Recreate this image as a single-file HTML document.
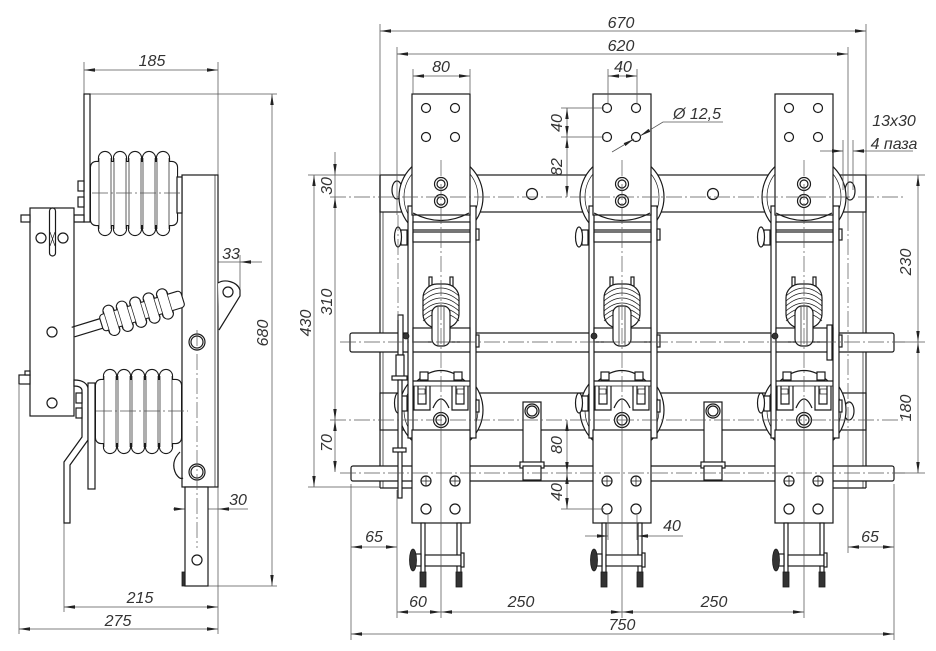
<!DOCTYPE html>
<html><head><meta charset="utf-8">
<style>
html,body{margin:0;padding:0;background:#fff;}
svg{display:block;}
.o{stroke:#1a1a1a;stroke-width:1.2;fill:#fff;}
.l{stroke:#1a1a1a;stroke-width:1.2;fill:none;}
.t{stroke:#1a1a1a;stroke-width:.7;fill:none;}
.d{stroke:#555;stroke-width:.75;fill:none;}
.c{stroke:#555;stroke-width:.7;fill:none;stroke-dasharray:16 3 2 3;}
.k{fill:#333;stroke:#1a1a1a;stroke-width:.8;}
text{font-family:"Liberation Sans",sans-serif;font-style:italic;font-size:16px;fill:#333;text-anchor:middle;}
</style></head>
<body>
<svg width="936" height="651" viewBox="0 0 936 651" xmlns="http://www.w3.org/2000/svg">
<defs>
<marker id="a" viewBox="0 0 11 4" refX="11" refY="2" markerWidth="11" markerHeight="4" markerUnits="userSpaceOnUse" orient="auto-start-reverse"><path d="M0,0.3 L11,2 L0,3.7z" fill="#222"/></marker>

<g id="phB">
 <circle cx="0" cy="197" r="42" class="o"/>
 <circle cx="0" cy="197" r="37" class="t"/>
 <circle cx="0" cy="410" r="42" class="o"/>
 <circle cx="0" cy="410" r="37" class="t"/>
 <rect x="-33" y="212" width="68" height="218" fill="#fff"/>
</g>

<g id="phF">
 <!-- rails -->
 <rect x="-33" y="206" width="5" height="232" class="o"/>
 <rect x="29" y="206" width="6" height="232" class="o"/>
 <rect x="35" y="229" width="3" height="11" class="o"/>
 <rect x="35" y="335" width="3" height="12" class="o"/>
 <rect x="35" y="400" width="3" height="12" class="o"/>
 <!-- top plate -->
 <rect x="-29" y="94" width="58" height="121" class="o"/>
 <path d="M-28,213 Q0,228 28,213" class="l"/>
 <circle cx="-15" cy="108" r="4.5" class="l"/>
 <circle cx="14" cy="108" r="4.5" class="l"/>
 <circle cx="-15" cy="137" r="4.5" class="l"/>
 <circle cx="14" cy="137" r="4.5" class="l"/>
 <circle cx="0" cy="184" r="6.5" class="o"/><circle cx="0" cy="184" r="4" class="l"/>
 <circle cx="0" cy="201" r="6.5" class="o"/><circle cx="0" cy="201" r="4" class="l"/>
 <!-- crossbars -->
 <rect x="-28" y="222" width="57" height="8" class="o"/>
 <rect x="-28" y="232" width="57" height="10" class="o"/>
 <!-- small insulator -->
 <rect x="-12" y="277" width="3" height="9" class="o"/>
 <rect x="9" y="277" width="3" height="9" class="o"/>
 <rect x="-18" y="284" width="36" height="44" rx="14" class="o"/>
 <path d="M-18,296 Q0,280 18,296 M-18,301 Q0,285 18,301 M-18,306 Q0,290 18,306 M-18,311 Q0,295 18,311 M-18,316 Q0,300 18,316 M-18,321 Q0,305 18,321" class="t"/>
 <rect x="-28" y="328" width="57" height="14" class="o"/>
 <rect x="-9" y="306" width="18" height="40" rx="7" class="o"/>
 <line x1="-3" y1="307" x2="-3" y2="345" class="t"/>
 <line x1="3" y1="307" x2="3" y2="345" class="t"/>
 <!-- lower contact -->
 <path d="M-24,381 Q0,360 24,381" class="l"/>
 <line x1="-28" y1="381" x2="29" y2="381" class="l"/>
 <rect x="-21" y="372" width="8" height="8" class="o"/>
 <rect x="13" y="372" width="8" height="8" class="o"/>
 <path d="M-27,386 L-27,410 L-11,410 L-11,386 M-23,386 L-23,404 L-15,404 L-15,386" class="l"/>
 <path d="M11,386 L11,410 L27,410 L27,386 M15,386 L15,404 L23,404 L23,386" class="l"/>
 <rect x="-23" y="389" width="7" height="5" class="t"/>
 <rect x="16" y="389" width="7" height="5" class="t"/>
 <line x1="-28" y1="386" x2="29" y2="386" class="t"/>
 <path d="M-8,408 Q0,390 8,408" class="o"/>
 <circle cx="0" cy="420" r="7.5" class="o"/><circle cx="0" cy="420" r="5" class="l"/>
 <!-- knobs -->
 <rect x="-40" y="230" width="6" height="15" class="o"/>
 <ellipse cx="-43" cy="237" rx="3.5" ry="10" class="o"/>
 <rect x="-40" y="396" width="6" height="15" class="o"/>
 <ellipse cx="-43" cy="403" rx="3.5" ry="10" class="o"/>
 <!-- lower plate -->
 <rect x="-29" y="430" width="58" height="93" class="o"/>
 <circle cx="-15" cy="481" r="5" class="l"/><path d="M-15,476 V486 M-20,481 H-10" class="t"/>
 <circle cx="14" cy="481" r="5" class="l"/><path d="M14,476 V486 M9,481 H19" class="t"/>
 <circle cx="-15" cy="509" r="5" class="l"/>
 <circle cx="14" cy="509" r="5" class="l"/>
 <!-- fuse -->
 <rect x="-20" y="523" width="4" height="50" class="o"/>
 <rect x="16" y="523" width="4" height="50" class="o"/>
 <rect x="-16" y="555" width="36" height="11" class="o"/>
 <rect x="20" y="553" width="3" height="14" class="o"/>
 <rect x="-26" y="554" width="6" height="12" class="o"/>
 <ellipse cx="-28" cy="560" rx="3.5" ry="11" class="k"/>
 <rect x="-21" y="572" width="6" height="15" class="k"/>
 <rect x="15" y="572" width="6" height="15" class="k"/>
</g>
</defs>

<!-- ================= LEFT (SIDE) VIEW ================= -->
<!-- extension lines -->
<g class="d">
 <line x1="84" y1="62" x2="84" y2="94"/>
 <line x1="218" y1="62" x2="218" y2="175"/>
 <line x1="218" y1="487" x2="218" y2="634"/>
 <line x1="90" y1="94" x2="277" y2="94"/>
 <line x1="207" y1="586" x2="277" y2="586"/>
 <line x1="240" y1="255" x2="240" y2="292"/>
 <line x1="64" y1="523" x2="64" y2="612"/>
 <line x1="19" y1="385" x2="19" y2="634"/>
 <line x1="84" y1="70" x2="218" y2="70" marker-start="url(#a)" marker-end="url(#a)"/>
 <line x1="272" y1="94" x2="272" y2="586" marker-start="url(#a)" marker-end="url(#a)"/>
 <line x1="196" y1="262" x2="216" y2="262" marker-end="url(#a)"/>
 <line x1="216" y1="262" x2="240" y2="262"/>
 <line x1="262" y1="262" x2="240" y2="262" marker-end="url(#a)"/>
 <line x1="173" y1="509" x2="185" y2="509" marker-end="url(#a)"/>
 <line x1="185" y1="509" x2="218" y2="509"/>
 <line x1="248" y1="509" x2="218" y2="509" marker-end="url(#a)"/>
 <line x1="64" y1="607" x2="218" y2="607" marker-start="url(#a)" marker-end="url(#a)"/>
 <line x1="19" y1="629" x2="218" y2="629" marker-start="url(#a)" marker-end="url(#a)"/>
</g>

<!-- top bracket -->
<rect x="84" y="94" width="6" height="128" class="o"/>
<path d="M74,215 L84,215 L84,222 L74,222 Z" class="o"/>
<rect x="78" y="181" width="6" height="10" class="o"/>
<rect x="78" y="197" width="6" height="10" class="o"/>

<!-- blade -->
<rect x="182" y="175" width="36" height="312" class="o"/>
<line x1="215" y1="175" x2="215" y2="487" class="t"/>
<path d="M218,283 C224,279 237,281 240,290 L240,296 L219,330" class="o"/>
<circle cx="228" cy="292" r="5" class="l"/>
<circle cx="197" cy="342" r="8" class="o"/><circle cx="197" cy="342" r="6" class="l"/>
<circle cx="197" cy="472" r="8" class="o"/><circle cx="197" cy="472" r="6" class="l"/>
<rect x="185" y="487" width="23" height="99" class="o"/>
<circle cx="197" cy="560" r="5" class="l"/>
<rect x="182" y="572" width="3" height="14" class="k"/>
<line x1="197" y1="330" x2="197" y2="548" class="c"/>

<!-- upper insulator (union outline trick) -->
<g>
 <g fill="none" stroke="#1a1a1a" stroke-width="2.2">
  <rect x="91" y="162" width="86" height="63" rx="5"/>
  <rect x="99" y="152" width="12" height="83" rx="6"/>
  <rect x="114" y="152" width="12" height="83" rx="6"/>
  <rect x="129" y="152" width="12" height="83" rx="6"/>
  <rect x="143" y="152" width="12" height="83" rx="6"/>
  <rect x="157" y="152" width="12" height="83" rx="6"/>
 </g>
 <g fill="#fff">
  <rect x="91" y="162" width="86" height="63" rx="5"/>
  <rect x="99" y="152" width="12" height="83" rx="6"/>
  <rect x="114" y="152" width="12" height="83" rx="6"/>
  <rect x="129" y="152" width="12" height="83" rx="6"/>
  <rect x="143" y="152" width="12" height="83" rx="6"/>
  <rect x="157" y="152" width="12" height="83" rx="6"/>
 </g>
 <path d="M99,158 V229 M111,158 V229 M114,158 V229 M126,158 V229 M129,158 V229 M141,158 V229 M143,158 V229 M155,158 V229 M157,158 V229 M169,158 V229" class="t"/>
 <rect x="177" y="177" width="5" height="36" class="o"/>
 <line x1="92" y1="193" x2="182" y2="193" class="c"/>
</g>

<!-- left block -->
<rect x="30" y="208" width="44" height="208" class="o"/>
<rect x="49.5" y="208" width="6" height="48" rx="3" class="o"/>
<path d="M50,232 L55,246 M55,232 L50,246" class="t"/>
<circle cx="41" cy="238" r="5" class="l"/>
<circle cx="63" cy="238" r="5" class="l"/>
<circle cx="52" cy="332" r="5" class="l"/>
<circle cx="52" cy="403" r="5" class="l"/>
<rect x="21" y="215" width="9" height="7" class="o"/>
<rect x="19" y="375" width="11" height="9" class="o"/>
<rect x="25" y="371" width="5" height="4" class="o"/>

<!-- middle inclined insulator -->
<g transform="translate(142,311) rotate(-17)">
 <line x1="-72" y1="-5" x2="-42" y2="-5" class="l"/>
 <line x1="-72" y1="5" x2="-42" y2="5" class="l"/>
 <g fill="none" stroke="#1a1a1a" stroke-width="2.2">
  <rect x="-42" y="-8" width="84" height="16" rx="3"/>
  <rect x="-37" y="-15" width="10" height="30" rx="5"/>
  <rect x="-23" y="-15" width="10" height="30" rx="5"/>
  <rect x="-9" y="-15" width="10" height="30" rx="5"/>
  <rect x="5" y="-15" width="10" height="30" rx="5"/>
  <rect x="19" y="-15" width="10" height="30" rx="5"/>
 </g>
 <g fill="#fff">
  <rect x="-42" y="-8" width="84" height="16" rx="3"/>
  <rect x="-37" y="-15" width="10" height="30" rx="5"/>
  <rect x="-23" y="-15" width="10" height="30" rx="5"/>
  <rect x="-9" y="-15" width="10" height="30" rx="5"/>
  <rect x="5" y="-15" width="10" height="30" rx="5"/>
  <rect x="19" y="-15" width="10" height="30" rx="5"/>
 </g>
 <path d="M-37,-11 V11 M-27,-11 V11 M-23,-11 V11 M-13,-11 V11 M-9,-11 V11 M1,-11 V11 M5,-11 V11 M15,-11 V11 M19,-11 V11 M29,-11 V11" class="t"/>
</g>

<!-- lower bracket -->
<path d="M74,380 Q86,380 88,388 L88,440 L70,465 L70,523 L64,523 L64,462 L82,437 L82,390 Q81,386 74,386 Z" class="o"/>
<rect x="88" y="383" width="7" height="106" class="o"/>
<rect x="76" y="393" width="6" height="10" class="o"/>
<rect x="76" y="408" width="6" height="10" class="o"/>

<!-- lower insulator -->
<g>
 <g fill="none" stroke="#1a1a1a" stroke-width="2.2">
  <rect x="96" y="380" width="85" height="63" rx="5"/>
  <rect x="104" y="370" width="12" height="83" rx="6"/>
  <rect x="118" y="370" width="12" height="83" rx="6"/>
  <rect x="132" y="370" width="12" height="83" rx="6"/>
  <rect x="146" y="370" width="12" height="83" rx="6"/>
  <rect x="160" y="370" width="12" height="83" rx="6"/>
 </g>
 <g fill="#fff">
  <rect x="96" y="380" width="85" height="63" rx="5"/>
  <rect x="104" y="370" width="12" height="83" rx="6"/>
  <rect x="118" y="370" width="12" height="83" rx="6"/>
  <rect x="132" y="370" width="12" height="83" rx="6"/>
  <rect x="146" y="370" width="12" height="83" rx="6"/>
  <rect x="160" y="370" width="12" height="83" rx="6"/>
 </g>
 <path d="M104,376 V447 M116,376 V447 M118,376 V447 M130,376 V447 M132,376 V447 M144,376 V447 M146,376 V447 M158,376 V447 M160,376 V447 M172,376 V447" class="t"/>
 <line x1="96" y1="411" x2="188" y2="411" class="c"/>
 <path d="M180,452 Q170,462 176,474 Q180,480 183,478" class="l"/>
</g>

<!-- left view texts -->
<text x="152" y="66">185</text>
<text x="231" y="259">33</text>
<text x="238" y="505">30</text>
<text x="140" y="603">215</text>
<text x="118" y="626">275</text>
<text transform="translate(268,333) rotate(-90)">680</text>

<!-- ================= FRONT VIEW ================= -->
<!-- frame -->
<rect x="380" y="175" width="486" height="37" class="o"/>
<rect x="380" y="393" width="486" height="37" class="o"/>
<line x1="380" y1="175" x2="380" y2="488" class="l"/>
<line x1="383" y1="212" x2="383" y2="488" class="t"/>
<line x1="866" y1="175" x2="866" y2="488" class="l"/>
<line x1="863" y1="212" x2="863" y2="488" class="t"/>
<line x1="380" y1="488" x2="413" y2="488" class="l"/>
<line x1="833" y1="488" x2="866" y2="488" class="l"/>
<circle cx="532" cy="194" r="5.5" class="l"/>
<circle cx="713" cy="194" r="5.5" class="l"/>
<ellipse cx="397" cy="190" rx="5" ry="9" class="o"/>
<ellipse cx="850" cy="191" rx="5" ry="9" class="o"/>
<ellipse cx="849" cy="411" rx="5" ry="9" class="o"/>

<use href="#phB" transform="translate(441,0)"/>
<use href="#phB" transform="translate(622,0)"/>
<use href="#phB" transform="translate(804,0)"/>

<!-- tabs between phases -->
<rect x="523" y="402" width="18" height="78" class="o"/>
<circle cx="532" cy="411" r="7" class="o"/><circle cx="532" cy="411" r="5" class="l"/>
<rect x="704" y="402" width="18" height="78" class="o"/>
<circle cx="713" cy="411" r="7" class="o"/><circle cx="713" cy="411" r="5" class="l"/>

<!-- shafts -->
<rect x="350" y="333" width="544" height="19" rx="2" class="o"/>
<rect x="351" y="466" width="543" height="15" rx="2" class="o"/>
<rect x="520" y="462" width="24" height="6" class="o"/>
<rect x="701" y="462" width="24" height="6" class="o"/>
<rect x="523" y="466" width="18" height="14" class="o"/>
<rect x="704" y="466" width="18" height="14" class="o"/>

<use href="#phF" transform="translate(441,0)"/>
<use href="#phF" transform="translate(622,0)"/>
<use href="#phF" transform="translate(804,0)"/>

<!-- left mechanism rod -->
<rect x="398" y="315" width="5" height="40" class="o"/>
<circle cx="406" cy="336" r="3" class="k"/>
<rect x="396" y="355" width="8" height="24" class="o"/>
<rect x="392" y="376" width="15" height="4" class="o"/>
<rect x="398" y="380" width="4" height="118" class="o"/>
<rect x="393" y="448" width="13" height="4" class="o"/>
<rect x="827" y="325" width="5" height="35" class="o"/>
<circle cx="594" cy="336" r="3" class="k"/>
<circle cx="775" cy="336" r="3" class="k"/>

<!-- center lines -->
<g class="c">
 <line x1="330" y1="197" x2="905" y2="197"/>
 <line x1="340" y1="342" x2="905" y2="342"/>
 <line x1="330" y1="420" x2="905" y2="420"/>
 <line x1="340" y1="473" x2="905" y2="473"/>
 <line x1="441" y1="160" x2="441" y2="410"/>
 <line x1="622" y1="160" x2="622" y2="410"/>
 <line x1="804" y1="160" x2="804" y2="410"/>
 <line x1="398" y1="215" x2="398" y2="320"/>
 <line x1="848" y1="215" x2="848" y2="440"/>
</g>

<!-- front dims -->
<g class="d">
 <line x1="380" y1="24" x2="380" y2="175"/>
 <line x1="866" y1="24" x2="866" y2="175"/>
 <line x1="397" y1="47" x2="397" y2="215"/>
 <line x1="397" y1="490" x2="397" y2="618"/>
 <line x1="848" y1="47" x2="848" y2="215"/>
 <line x1="848" y1="440" x2="848" y2="553"/>
 <line x1="413" y1="69" x2="413" y2="94"/>
 <line x1="470" y1="69" x2="470" y2="94"/>
 <line x1="608" y1="69" x2="608" y2="104"/>
 <line x1="637" y1="69" x2="637" y2="104"/>
 <line x1="380" y1="31" x2="866" y2="31" marker-start="url(#a)" marker-end="url(#a)"/>
 <line x1="397" y1="54" x2="848" y2="54" marker-start="url(#a)" marker-end="url(#a)"/>
 <line x1="413" y1="76" x2="470" y2="76" marker-start="url(#a)" marker-end="url(#a)"/>
 <line x1="608" y1="76" x2="637" y2="76" marker-start="url(#a)" marker-end="url(#a)"/>
 <!-- 40 / 82 -->
 <line x1="561" y1="108" x2="604" y2="108"/>
 <line x1="561" y1="137" x2="604" y2="137"/>
 <line x1="567" y1="108" x2="567" y2="137" marker-start="url(#a)" marker-end="url(#a)"/>
 <line x1="567" y1="137" x2="567" y2="197" marker-start="url(#a)" marker-end="url(#a)"/>
 <!-- phi 12,5 leader -->
 <line x1="612" y1="152" x2="634" y2="139" marker-end="url(#a)"/>
 <polyline points="640,136 663,122 723,122" marker-start="url(#a)"/>
 <!-- 13x30 -->
 <line x1="853" y1="140" x2="853" y2="190"/>
 <line x1="843" y1="140" x2="843" y2="190"/>
 <line x1="820" y1="151" x2="843" y2="151" marker-end="url(#a)"/>
 <line x1="913" y1="151" x2="853" y2="151" marker-end="url(#a)"/>
 <!-- left vertical -->
 <line x1="308" y1="175" x2="380" y2="175"/>
 <line x1="308" y1="487" x2="380" y2="487"/>
 <line x1="335" y1="152" x2="335" y2="175" marker-end="url(#a)"/>
 <line x1="335" y1="175" x2="335" y2="197"/>
 <line x1="335" y1="197" x2="335" y2="420" marker-start="url(#a)" marker-end="url(#a)"/>
 <line x1="335" y1="420" x2="335" y2="472" marker-start="url(#a)" marker-end="url(#a)"/>
 <line x1="314" y1="175" x2="314" y2="487" marker-start="url(#a)" marker-end="url(#a)"/>
 <!-- right vertical -->
 <line x1="866" y1="175" x2="925" y2="175"/>
 <line x1="894" y1="342" x2="925" y2="342"/>
 <line x1="894" y1="473" x2="925" y2="473"/>
 <line x1="918" y1="175" x2="918" y2="342" marker-start="url(#a)" marker-end="url(#a)"/>
 <line x1="918" y1="342" x2="918" y2="473" marker-start="url(#a)" marker-end="url(#a)"/>
 <!-- 80 / 40 lower -->
 <line x1="561" y1="509" x2="604" y2="509"/>
 <line x1="567" y1="420" x2="567" y2="473" marker-start="url(#a)" marker-end="url(#a)"/>
 <line x1="567" y1="473" x2="567" y2="509" marker-start="url(#a)" marker-end="url(#a)"/>
 <!-- bottom -->
 <line x1="351" y1="484" x2="351" y2="640"/>
 <line x1="894" y1="484" x2="894" y2="640"/>
 <line x1="441" y1="410" x2="441" y2="618"/>
 <line x1="622" y1="410" x2="622" y2="618"/>
 <line x1="804" y1="410" x2="804" y2="618"/>
 <line x1="608" y1="515" x2="608" y2="540"/>
 <line x1="637" y1="515" x2="637" y2="540"/>
 <line x1="351" y1="547" x2="397" y2="547" marker-start="url(#a)" marker-end="url(#a)"/>
 <line x1="848" y1="547" x2="894" y2="547" marker-start="url(#a)" marker-end="url(#a)"/>
 <line x1="585" y1="536" x2="608" y2="536" marker-end="url(#a)"/>
 <line x1="683" y1="536" x2="637" y2="536" marker-end="url(#a)"/>
 <line x1="397" y1="612" x2="441" y2="612" marker-start="url(#a)" marker-end="url(#a)"/>
 <line x1="441" y1="612" x2="622" y2="612" marker-start="url(#a)" marker-end="url(#a)"/>
 <line x1="622" y1="612" x2="804" y2="612" marker-start="url(#a)" marker-end="url(#a)"/>
 <line x1="351" y1="634" x2="894" y2="634" marker-start="url(#a)" marker-end="url(#a)"/>
</g>

<!-- front texts -->
<text x="621" y="28">670</text>
<text x="621" y="51">620</text>
<text x="441" y="72">80</text>
<text x="623" y="72">40</text>
<text x="697" y="119">Ø 12,5</text>
<text x="894" y="126">13x30</text>
<text x="894" y="149">4 паза</text>
<text transform="translate(562,123) rotate(-90)">40</text>
<text transform="translate(562,167) rotate(-90)">82</text>
<text transform="translate(332,186) rotate(-90)">30</text>
<text transform="translate(332,302) rotate(-90)">310</text>
<text transform="translate(311,323) rotate(-90)">430</text>
<text transform="translate(332,443) rotate(-90)">70</text>
<text transform="translate(911,262) rotate(-90)">230</text>
<text transform="translate(911,408) rotate(-90)">180</text>
<text transform="translate(562,445) rotate(-90)">80</text>
<text transform="translate(562,492) rotate(-90)">40</text>
<text x="374" y="542">65</text>
<text x="870" y="542">65</text>
<text x="672" y="531">40</text>
<text x="418" y="607">60</text>
<text x="521" y="607">250</text>
<text x="714" y="607">250</text>
<text x="622" y="630">750</text>
</svg>
</body></html>
